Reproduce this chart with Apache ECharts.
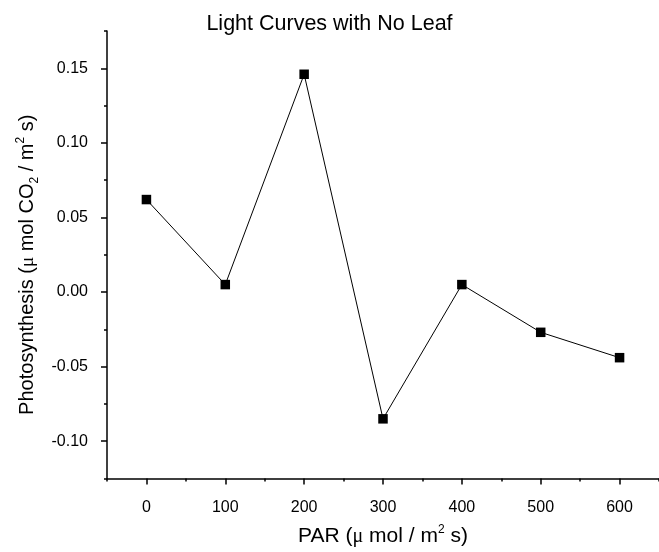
<!DOCTYPE html>
<html>
<head>
<meta charset="utf-8">
<script src="https://cdn.jsdelivr.net/npm/echarts@6/dist/echarts.min.js"></script>
<style>
  html, body { margin: 0; padding: 0; background: #ffffff; }
  #chart { width: 659px; height: 552px; }
</style>
</head>
<body>
<div id="chart"></div>
<script>
// PAR levels and measured photosynthesis with an empty chamber
const parValues = [0, 100, 200, 300, 400, 500, 600];
const photosynthesis = [0.062, 0.005, 0.146, -0.085, 0.005, -0.027, -0.044];

// labelled tick positions
const xMajorTicks = [0, 100, 200, 300, 400, 500, 600];
const yMajorTicks = [-0.10, -0.05, 0.00, 0.05, 0.10, 0.15];

const FONT = '"Liberation Sans", Arial, sans-serif';
const AXIS_COLOR = '#000';

function richParts(size) {
  return {
    n:   { fontFamily: FONT, fontSize: size, color: '#000', lineHeight: 26, verticalAlign: 'middle' },
    mu:  { fontFamily: '"Liberation Serif", serif', fontSize: size - 1, color: '#000', lineHeight: 26, verticalAlign: 'middle' },
    sup: { fontFamily: FONT, fontSize: 12, color: '#000', lineHeight: 12, verticalAlign: 'top' },
    sub: { fontFamily: FONT, fontSize: 12, color: '#000', lineHeight: 12, verticalAlign: 'bottom' }
  };
}

const chart = echarts.init(document.getElementById('chart'), null, { renderer: 'canvas' });

const grid = { left: 107, right: -8, top: 31, bottom: 71 };

const xMin = -50, xMax = 650;
const yMin = -0.125, yMax = 0.175;

chart.setOption({
  backgroundColor: '#ffffff',
  animation: false,
  title: {
    text: 'Light Curves with No Leaf',
    left: 'center',
    top: 8,
    textStyle: { fontFamily: FONT, fontSize: 21.5, fontWeight: 'normal', color: '#000' }
  },
  grid: grid,
  xAxis: [
    {
      // half-step ticks (minor)
      type: 'value', position: 'bottom',
      min: xMin, max: xMax, interval: 100,
      axisLine: { show: true, onZero: false, lineStyle: { color: AXIS_COLOR, width: 1.5 } },
      axisTick: { show: true, inside: false, length: 3, lineStyle: { color: AXIS_COLOR, width: 1.5 } },
      axisLabel: { show: false },
      splitLine: { show: false }
    },
    {
      type: 'value', position: 'bottom',
      min: xMin, max: xMax, interval: 100,
      axisLine: { show: false, onZero: false },
      axisTick: { show: true, inside: false, length: 6, customValues: xMajorTicks,
                  lineStyle: { color: AXIS_COLOR, width: 1.5 } },
      axisLabel: { show: true, customValues: xMajorTicks, margin: 21,
                   fontFamily: FONT, fontSize: 16, color: '#000',
                   formatter: v => String(v) },
      splitLine: { show: false },
      name: '{n|PAR (}{mu|μ}{n| mol / m}{sup|2}{n| s)}',
      nameLocation: 'middle',
      nameGap: 45,
      nameTextStyle: { rich: richParts(21) }
    }
  ],
  yAxis: [
    {
      type: 'value', position: 'left',
      min: yMin, max: yMax, interval: 0.05,
      axisLine: { show: true, onZero: false, lineStyle: { color: AXIS_COLOR, width: 1.5 } },
      axisTick: { show: true, inside: false, length: 3, lineStyle: { color: AXIS_COLOR, width: 1.5 } },
      axisLabel: { show: false },
      splitLine: { show: false }
    },
    {
      type: 'value', position: 'left',
      min: yMin, max: yMax, interval: 0.05,
      axisLine: { show: false, onZero: false },
      axisTick: { show: true, inside: false, length: 6, customValues: yMajorTicks,
                  lineStyle: { color: AXIS_COLOR, width: 1.5 } },
      axisLabel: { show: true, customValues: yMajorTicks, margin: 19,
                   fontFamily: FONT, fontSize: 16, color: '#000',
                   formatter: v => v.toFixed(2) },
      splitLine: { show: false },
      name: '{n|Photosynthesis (}{mu|μ}{n| mol CO}{sub|2}{n| / m}{sup|2}{n| s)}',
      nameLocation: 'middle',
      nameRotate: 90,
      nameGap: 66,
      nameTextStyle: { rich: richParts(20), padding: [0, 20, 0, 0] }
    }
  ],
  series: [
    {
      type: 'line',
      xAxisIndex: 1,
      yAxisIndex: 1,
      data: parValues.map((x, i) => [x, photosynthesis[i]]),
      symbol: 'rect',
      symbolSize: 9.5,
      showAllSymbol: true,
      itemStyle: { color: '#000' },
      lineStyle: { color: '#000', width: 1 },
      z: 5
    }
  ]
});
</script>
</body>
</html>
